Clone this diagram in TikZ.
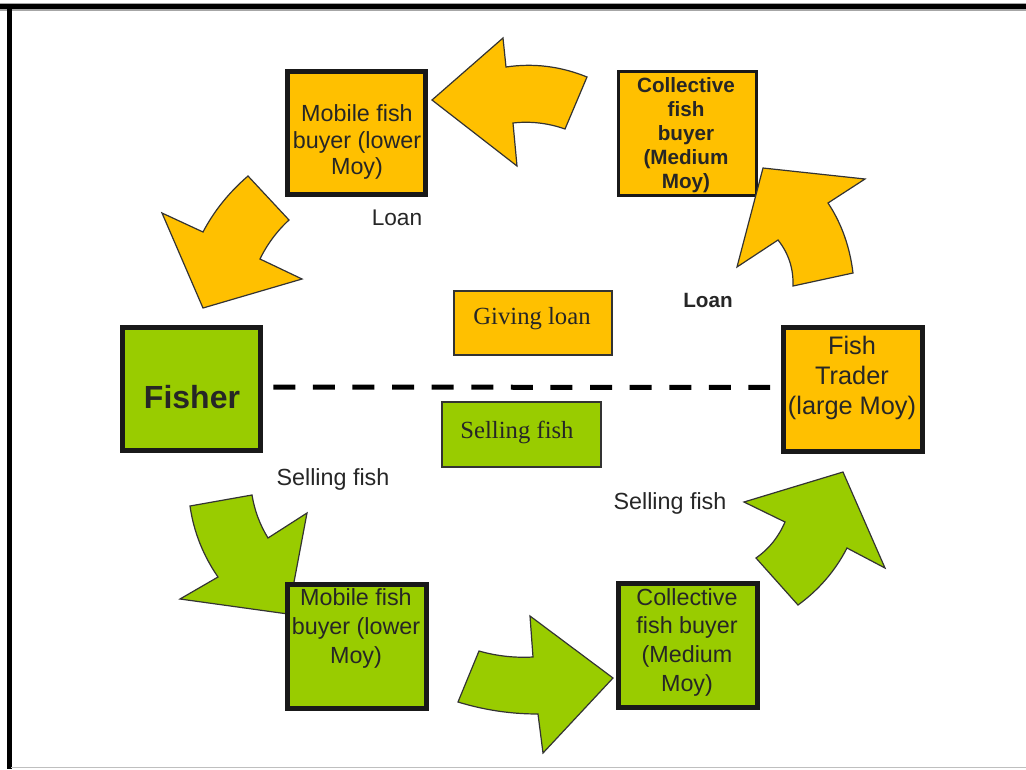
\documentclass[tikz,border=0pt]{standalone}
\usepackage{fontspec}
\setmainfont{Liberation Sans}
\newfontfamily\timesface{Liberation Serif}
\definecolor{boxgold}{HTML}{FFC000}
\definecolor{boxgreen}{HTML}{99CC00}
\begin{document}
\begin{tikzpicture}[x=0.75pt,y=-0.75pt,
  bigbox/.style={draw=black!90, line width=3.75pt, minimum width=103.9pt, minimum height=92.6pt, inner sep=0pt},
  midbox/.style={bigbox, line width=2.25pt},
  flatbox/.style={draw=black!80, line width=1.4pt, minimum width=118.8pt, minimum height=48.5pt, inner sep=0pt},
  boxtext/.style={align=center, text=black!85, inner sep=0pt},
  caption/.style={text=black!85, inner sep=0pt},
  blockarrow/.style={draw=black!80, line width=0.9pt, line join=miter},
  goldarrow/.style={blockarrow, fill=boxgold},
  leafarrow/.style={blockarrow, fill=boxgreen},
  dashline/.style={line width=3.75pt, dash pattern=on 16.5pt off 13.2pt, shorten <=7.5pt, shorten >=8.25pt}
]
\useasboundingbox (0,0) rectangle (1026,769);
\fill[white] (0,0) rectangle (1026,769);

% frame of the slide
\draw[line width=6pt, black!35] (0,6.5) -- (1026,6.5);
\draw[line width=3.6pt, black] (0,6.5) -- (1026,6.5);
\draw[line width=3.2pt, black] (9.5,4) -- (9.5,769);
\draw[line width=1.2pt, black!25] (11,767.5) -- (1026,767.5);

% arrow into the lower mobile buyer (lies under the box)
\draw[leafarrow] (190,506) -- (252,495)
  .. controls (254.5,510.4) and (259.9,524.8) .. (268,538)
  -- (307,513) -- (288,614) -- (180,599) -- (218,577)
  .. controls (203.1,555.4) and (193.7,531.8) .. (190,506) -- cycle;

% boxes
\node[bigbox, fill=boxgold] (mobTop) at (356.5,133) {};
\node[midbox, fill=boxgold] (colTop) at (687.5,133.5) {};
\node[bigbox, fill=boxgreen] (fisher) at (191.5,389) {};
\node[bigbox, fill=boxgold] (trader) at (853,389.5) {};
\node[bigbox, fill=boxgreen] (mobBot) at (357,646.5) {};
\node[bigbox, fill=boxgreen] (colBot) at (688,645.5) {};
\node[flatbox, fill=boxgold] (giveBox) at (533,323) {};
\node[flatbox, fill=boxgreen] (sellBox) at (521.5,434.5) {};

% box texts
\node[boxtext, font=\fontsize{17.5}{20}\selectfont] (mobTopT) at (357,142) {Mobile fish\\buyer (lower\\Moy)};
\node[boxtext, font=\fontsize{15.5}{18}\selectfont\bfseries] (colTopT) at (686,135.5) {Collective\\fish\\buyer\\(Medium\\Moy)};
\node[boxtext, font=\fontsize{24}{28}\selectfont\bfseries] (fisherT) at (192,397) {Fisher};
\node[boxtext, font=\fontsize{19}{22.5}\selectfont] (traderT) at (852,378) {Fish\\Trader\\(large Moy)};
\node[boxtext, font=\fontsize{17.5}{21.75}\selectfont] (mobBotT) at (356,628) {Mobile fish\\buyer (lower\\Moy)};
\node[boxtext, font=\fontsize{17.5}{21.5}\selectfont] (colBotT) at (687,642) {Collective\\fish buyer\\(Medium\\Moy)};
\node[boxtext, font=\fontsize{18.5}{22}\selectfont\timesface] (giveT) at (532,319) {Giving loan};
\node[boxtext, font=\fontsize{18.5}{22}\selectfont\timesface] (sellT) at (517,432) {Selling fish};

% dashed divider between the two flows
\draw[dashline] ([yshift=1.5pt]fisher.east) -- ([yshift=1.5pt]trader.west);

% loan flow (gold arrows)
\draw[goldarrow] (432,100) -- (503,38) -- (506,67)
  .. controls (533,63) and (560,66) .. (587,77)
  -- (565,129) .. controls (548,123) and (530,121) .. (513,123)
  -- (517,166) -- cycle;
\draw[goldarrow] (162,213) -- (203,232)
  .. controls (214,211) and (229,192.4) .. (248,176)
  -- (289,220) .. controls (277,231) and (267,244.5) .. (260,259)
  -- (302,279) -- (203,308) -- cycle;
\draw[goldarrow] (763,168) -- (865,179) -- (828,203)
  .. controls (842,224) and (850,248) .. (853,273)
  -- (793,286) .. controls (793.6,268.7) and (788.6,253.3) .. (778,240)
  -- (737,267) -- cycle;

% fish flow (green arrows)
\draw[leafarrow] (479,651) .. controls (496.5,656) and (514.5,658) .. (533,657)
  -- (530,616) -- (613,678) -- (543,753) -- (538,714)
  .. controls (510.6,714) and (484,710) .. (458,702) -- cycle;
\draw[leafarrow] (843,472) -- (885,568) -- (847,548)
  .. controls (835.2,570.9) and (818.8,589.9) .. (798,605)
  -- (756,558) .. controls (769,549) and (778.5,537) .. (785,522)
  -- (744,502) -- cycle;

% flow captions
\node[caption, font=\fontsize{17}{20}\selectfont] (loanA) at (397,218) {Loan};
\node[caption, font=\fontsize{15.5}{18}\selectfont\bfseries] (loanB) at (708,300) {Loan};
\node[caption, font=\fontsize{17.5}{20}\selectfont] (sellA) at (333,479) {Selling fish};
\node[caption, font=\fontsize{17.5}{20}\selectfont] (sellB) at (670,503) {Selling fish};
\end{tikzpicture}
\end{document}
